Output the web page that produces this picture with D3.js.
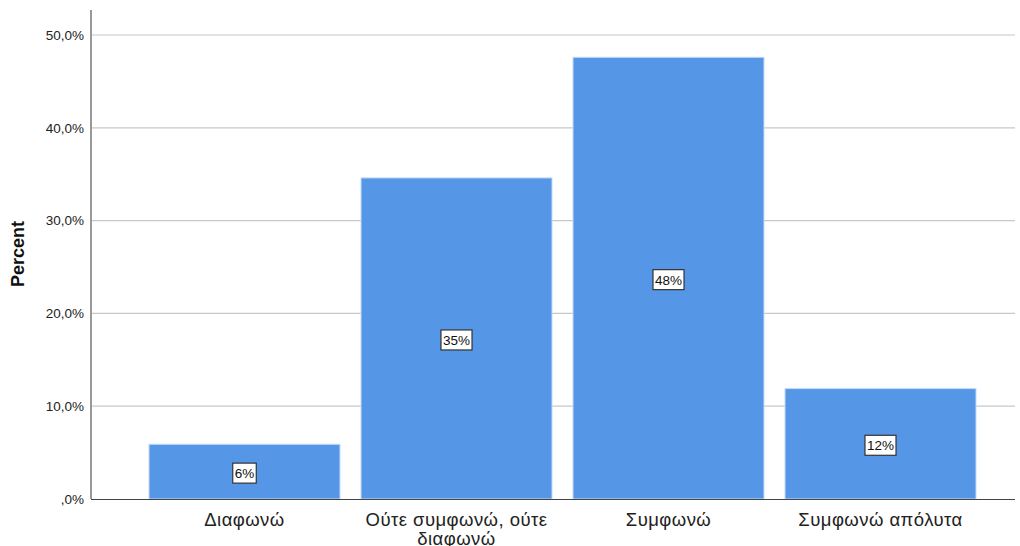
<!DOCTYPE html>
<html><head><meta charset="utf-8">
<script src="https://cdn.jsdelivr.net/npm/d3@7"></script>
<style>body{margin:0;background:#fff}svg{display:block}</style>
</head><body>
<svg id="c" width="1020" height="546"></svg>
<script>
const categories = ["Διαφωνώ", "Ούτε συμφωνώ, ούτε διαφωνώ", "Συμφωνώ", "Συμφωνώ απόλυτα"];
const categoryLines = [["Διαφωνώ"], ["Ούτε συμφωνώ, ούτε", "διαφωνώ"], ["Συμφωνώ"], ["Συμφωνώ απόλυτα"]];
const percentValues = [5.9, 34.6, 47.6, 11.9];
const barLabels = ["6%", "35%", "48%", "12%"];
const yTicks = [0, 10, 20, 30, 40, 50];
const yTickLabels = [",0%", "10,0%", "20,0%", "30,0%", "40,0%", "50,0%"];

const svg = d3.select("#c");
const font = "Arial, 'Liberation Sans', sans-serif";
const x = d3.scaleBand().domain(categories).range([149, 976]).paddingInner(21/212).paddingOuter(0);
const y = d3.scaleLinear().domain([0, 50]).range([499, 35]);
const left = 91, right = 1015;

// gridlines
svg.append("g").selectAll("line").data(yTicks.filter(d => d > 0)).join("line")
  .attr("x1", left).attr("x2", right).attr("y1", d => y(d)).attr("y2", d => y(d))
  .attr("stroke", "#c8c8c8").attr("stroke-width", 1.2);

// y axis
const yAxis = d3.axisLeft(y).tickValues(yTicks).tickFormat((d, i) => yTickLabels[i]).tickSize(0).tickPadding(7);
const gy = svg.append("g").attr("transform", `translate(${left},0)`).call(yAxis);
gy.select(".domain").remove();
gy.selectAll("text").attr("font-family", font).attr("font-size", 13.5).attr("fill", "#222");
svg.append("line").attr("x1", left).attr("x2", left).attr("y1", 10).attr("y2", 499)
  .attr("stroke", "#999").attr("stroke-width", 2);

// bars
svg.append("g").selectAll("rect").data(percentValues).join("rect")
  .attr("x", (d, i) => x(categories[i])).attr("width", x.bandwidth())
  .attr("y", d => y(d)).attr("height", d => y(0) - y(d))
  .attr("fill", "#5596E6").attr("stroke", "#c5dcf7").attr("stroke-width", 1);

// baseline
svg.append("line").attr("x1", left).attr("x2", right).attr("y1", 499.5).attr("y2", 499.5)
  .attr("stroke", "#444").attr("stroke-width", 1.2);

// bar labels
const lg = svg.append("g").selectAll("g").data(percentValues).join("g")
  .attr("transform", (d, i) => `translate(${x(categories[i]) + x.bandwidth()/2},${(y(d) + y(0))/2 + 1.5})`);
lg.append("rect").attr("y", -10).attr("height", 20)
  .attr("fill", "#fff").attr("stroke", "#333").attr("stroke-width", 1.2);
lg.append("text").text((d, i) => barLabels[i]).attr("text-anchor", "middle").attr("dy", "0.36em")
  .attr("font-family", font).attr("font-size", 13.5).attr("fill", "#111");
lg.each(function() {
  const t = d3.select(this).select("text").node().getBBox();
  d3.select(this).select("rect").attr("x", t.x - 2).attr("width", t.width + 4);
});

// x category labels (each line as its own text)
categoryLines.forEach((lines, i) => {
  const cx = x(categories[i]) + x.bandwidth()/2;
  lines.forEach((ln, j) => {
    svg.append("text").attr("x", cx).attr("y", 526 + j * 19)
      .attr("text-anchor", "middle").attr("font-family", font).attr("font-size", 18.5)
      .attr("letter-spacing", 0.45).attr("fill", "#222").text(ln);
  });
});

// y title
svg.append("text").attr("transform", "translate(24,254) rotate(-90)")
  .attr("text-anchor", "middle").attr("font-family", font).attr("font-size", 18)
  .attr("font-weight", "bold").attr("fill", "#111").text("Percent");
</script>
</body></html>
